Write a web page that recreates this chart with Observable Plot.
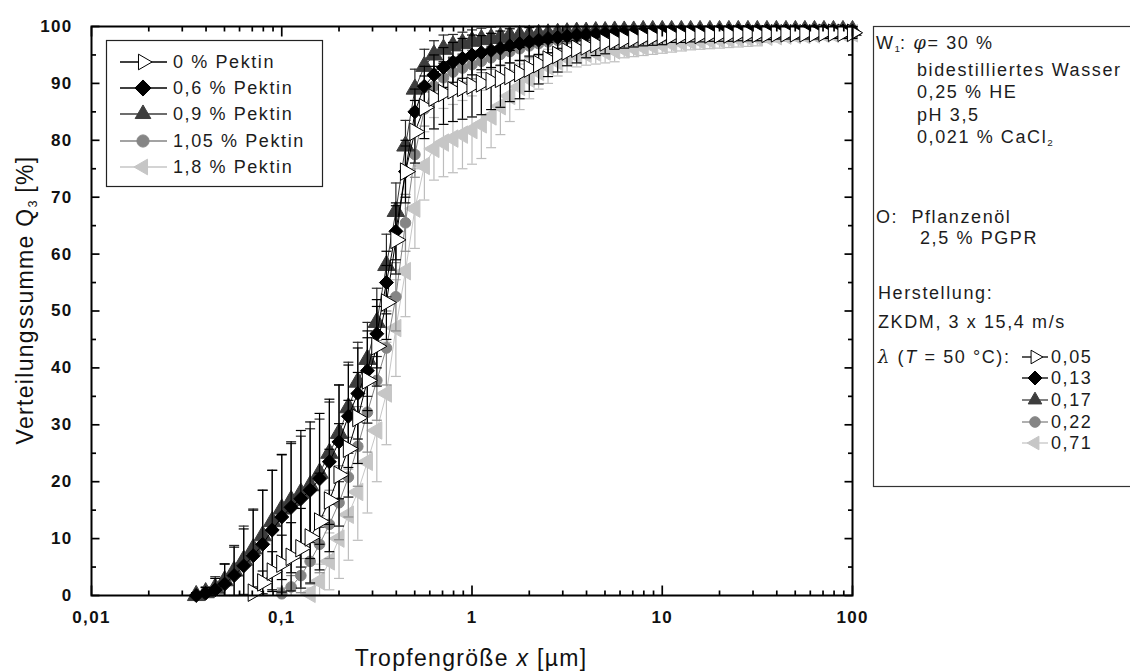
<!DOCTYPE html>
<html><head><meta charset="utf-8">
<script src="https://cdn.jsdelivr.net/npm/d3@7"></script>
<script src="https://cdn.jsdelivr.net/npm/@observablehq/plot@0.6"></script>
<style>
body{margin:0;background:#fff;font-family:"Liberation Sans",Arial,sans-serif;}
#wrap{position:relative;width:1130px;height:671px;overflow:hidden;}
.t{position:absolute;white-space:nowrap;color:#1c1c1c;font-size:18px;letter-spacing:1.6px;line-height:20px;}
.t sub{font-size:0.55em;vertical-align:-0.35em;letter-spacing:0;}
.ttl{position:absolute;white-space:nowrap;color:#111;font-size:23px;letter-spacing:1.3px;line-height:24px;}
.ttl sub{font-size:0.55em;vertical-align:-0.35em;letter-spacing:0;}
.sym{font-family:"DejaVu Serif",serif;font-style:italic;}
</style></head><body><div id="wrap"></div>
<script>
// particle size classes (µm)
const sizes = [0.0355,0.0398,0.0447,0.0501,0.0562,0.0631,0.0708,0.0794,0.0891,0.1,
  0.112,0.126,0.141,0.158,0.178,0.2,0.224,0.251,0.282,0.316,
  0.355,0.398,0.447,0.501,0.562,0.631,0.708,0.794,0.891,1,
  1.12,1.26,1.41,1.58,1.78,2,2.24,2.51,2.82,3.16,
  3.55,3.98,4.47,5.01,5.62,6.31,7.08,7.94,8.91,10,
  11.2,12.6,14.1,15.8,17.8,20,22.4,25.1,28.2,31.6,
  35.5,39.8,44.7,50.1,56.2,63.1,70.8,79.4,89.1,100];

const seriesNames = ["0 % Pektin","0,6 % Pektin","0,9 % Pektin","1,05 % Pektin","1,8 % Pektin"];
const lambdaLabels = ["0,05","0,13","0,17","0,22","0,71"];

// Q3 values (%)
const q0 = [null,null,null,null,null,null,0.5,2.3,4.2,5.6,
  6.8,8.3,10.2,13.0,16.7,21.2,25.8,31.2,37.8,43.8,
  51.5,62.5,74.5,81.5,85.8,87.5,88.3,88.8,89.2,89.6,
  90.0,90.4,90.8,91.3,91.8,92.6,93.4,94.2,95.0,95.6,
  96.1,96.5,96.9,97.2,97.5,97.7,97.9,98.1,98.2,98.3,
  98.4,98.4,98.5,98.5,98.6,98.6,98.6,98.7,98.7,98.7,
  98.7,98.8,98.8,98.8,98.8,98.8,98.9,98.9,98.9,98.9];
const q06 = [0,0.4,1.0,2.0,3.5,5.2,7.0,9.0,11.5,13.8,
  15.5,17.0,18.5,20.5,23.5,27.0,31.5,35.5,39.5,46.0,
  55.0,64.0,74.5,85.0,89.5,91.5,92.8,93.7,94.4,95.0,
  95.4,95.8,96.2,96.6,97.0,97.3,97.6,97.9,98.1,98.3,
  98.5,98.6,98.7,98.8,98.9,98.9,99.0,99.0,99.1,99.1,
  99.1,99.1,99.1,99.1,99.1,99.2,99.2,99.2,99.2,99.2,
  99.2,99.2,99.2,99.2,99.2,99.2,99.2,99.2,99.2,99.2];
const q09 = [0,0.5,1.3,2.6,4.3,6.2,8.2,10.5,13.0,15.2,
  16.7,18.0,19.3,21.5,25.0,28.5,33.0,37.5,41.5,48.0,
  58.0,67.5,79.0,89.0,93.0,95.0,96.0,96.6,97.0,97.4,
  97.7,97.9,98.1,98.3,98.4,98.5,98.6,98.7,98.8,98.9,
  99.0,99.0,99.1,99.1,99.2,99.2,99.2,99.3,99.3,99.3,
  99.3,99.3,99.3,99.3,99.3,99.3,99.3,99.3,99.3,99.3,
  99.3,99.3,99.3,99.3,99.3,99.3,99.3,99.3,99.3,99.3];
const q105 = [null,null,null,null,null,null,null,null,null,0.3,
  1.5,3.5,6.0,9.0,12.5,16.3,20.8,26.2,32.2,37.8,
  43.5,52.5,65.5,77.5,85.5,89.5,91.0,92.0,92.7,93.3,
  93.9,94.5,95.1,95.6,96.1,96.6,97.0,97.3,97.6,97.9,
  98.1,98.3,98.4,98.5,98.6,98.7,98.8,98.8,98.9,98.9,
  99.0,99.0,99.0,99.0,99.0,99.0,99.0,99.0,99.0,99.0,
  99.0,99.0,99.0,99.0,99.0,99.0,99.0,99.0,99.0,99.0];
const q18 = [null,null,null,null,null,null,null,null,null,null,
  null,null,0.3,2.5,6.0,10.0,14.2,18.2,23.5,29.0,
  35.5,47.0,57.0,68.0,75.5,78.5,79.6,80.3,81.0,81.8,
  82.8,84.2,86.0,87.8,89.4,90.8,92.0,93.0,93.8,94.5,
  94.9,95.2,95.4,95.6,95.8,96.0,96.2,96.4,96.6,96.8,
  97.0,97.2,97.4,97.5,97.6,97.7,97.8,97.9,98.0,98.1,
  98.2,98.3,98.4,98.5,98.5,98.6,98.7,98.7,98.8,98.8];

// standard deviations (%)
const e0 = [null,null,null,null,null,null,1,2,3.5,5,
  6,7,8,8.5,9,9,8.5,8,7.5,7,
  6.5,6,5.5,5.5,5.5,5.5,5.5,5.5,5.5,5.5,
  5.5,5,5,4.5,4.5,4,3.5,3,3,2.5,
  2.5,2,2,2,1.5,1.5,1.5,1.5,1.5,1.5,
  1.2,1.2,1.2,1.2,1.2,1.2,1.2,1.2,1.2,1.2,
  1,1,1,1,1,1,1,1,1,1];
const e06 = [0.5,1,2,3.5,5,6.5,8,9.5,10.5,11,
  11.5,12,12,11.5,11,10,9,8,7,6,
  5.5,5,4.5,4,3.5,3.5,3.5,3.5,3.5,3.5,
  3,3,3,3,3,2.5,2.5,2.5,2,2,
  2,2,1.5,1.5,1.5,1.5,1.5,1.5,1.5,1.5,
  1,1,1,1,1,1,1,1,1,1,
  1,1,1,1,1,1,1,1,1,1];
const e09 = [0.5,1,2,3,4.5,6,7,8,9,9.5,
  10,10,10,9.5,9,8.5,8,7,6.5,6,
  5.5,5,4.5,3.5,3,2.5,2.5,2,2,2,
  2,2,2,2,2,1.5,1.5,1.5,1.5,1.5,
  1.5,1.5,1.5,1,1,1,1,1,1,1,
  1,1,1,1,1,1,1,1,1,1,
  1,1,1,1,1,1,1,1,1,1];
const e105 = [null,null,null,null,null,null,null,null,null,1,
  2,3,4,5,6,6.5,7,7,7,7,
  6.5,6,5,4,3,2.5,2.5,2.5,2.5,2.5,
  2,2,2,2,2,2,2,2,2,2,
  1.5,1.5,1.5,1.5,1.5,1.5,1.5,1.5,1.5,1.5,
  1,1,1,1,1,1,1,1,1,1,
  1,1,1,1,1,1,1,1,1,1];
const e18 = [null,null,null,null,null,null,null,null,null,null,
  null,null,1,3,5,7,8,8.5,9,9,
  9,8.5,8,7,6,5.5,6,6,6,6,
  6,5.5,5,4.5,4,3.5,3,3,2.5,2.5,
  2,2,2,2,2,1.5,1.5,1.5,1.5,1.5,
  1.5,1.5,1.5,1.5,1.5,1.5,1.5,1.5,1.5,1.5,
  1,1,1,1,1,1,1,1,1,1];

// axis ticks
const xMajor = [0.01,0.1,1,10,100];
const xMinor = [0.02,0.03,0.04,0.05,0.06,0.07,0.08,0.09,0.2,0.3,0.4,0.5,0.6,0.7,0.8,0.9,
  2,3,4,5,6,7,8,9,20,30,40,50,60,70,80,90];
const yMajor = [0,10,20,30,40,50,60,70,80,90,100];
const yMinor = [5,15,25,35,45,55,65,75,85,95];

// styles
const styles = [
  {fill:"#ffffff", stroke:"#000000", line:"#000000", err:"#000000", symbol:"triangle", rotate:90, r:6.5},
  {fill:"#000000", stroke:"#000000", line:"#000000", err:"#000000", symbol:"diamond2", rotate:0, r:6.3},
  {fill:"#3d3d3d", stroke:"#3d3d3d", line:"#3d3d3d", err:"#2a2a2a", symbol:"triangle", rotate:0, r:6.5},
  {fill:"#858585", stroke:"#858585", line:"#858585", err:"#8a8a8a", symbol:"circle", rotate:0, r:5.3},
  {fill:"#c6c6c6", stroke:"#c6c6c6", line:"#c6c6c6", err:"#bdbdbd", symbol:"triangle", rotate:-90, r:6.5}
];
const valueSets = [q0, q06, q09, q105, q18];
const errSets = [e0, e06, e09, e105, e18];

function rowsFor(k){
  const v = valueSets[k], e = errSets[k], out = [];
  sizes.forEach((x,i)=>{
    if (v[i] == null) return;
    out.push({x, y:v[i], lo:Math.max(0, v[i]-e[i]), hi:Math.min(100, v[i]+e[i])});
  });
  return out;
}

const capSymbol = {draw(ctx, size){ const h = Math.sqrt(size/Math.PI); ctx.moveTo(-h,0); ctx.lineTo(h,0); }};
// inward tick: a segment from the anchor point, pointing "up" (rotated per side)
const tickSymbol = {draw(ctx, size){ const L = Math.sqrt(size/Math.PI); ctx.moveTo(0,0); ctx.lineTo(0,-L); }};

const drawOrder = [4,3,2,1,0];
const seriesMarks = [];
for (const k of drawOrder){
  const s = styles[k], rows = rowsFor(k);
  seriesMarks.push(
    Plot.ruleX(rows, {x:"x", y1:"lo", y2:"hi", stroke:s.err, strokeWidth:1.2}),
    Plot.dot(rows, {x:"x", y:"lo", symbol:capSymbol, r:5, stroke:s.err, fill:"none", strokeWidth:1.2}),
    Plot.dot(rows, {x:"x", y:"hi", symbol:capSymbol, r:5, stroke:s.err, fill:"none", strokeWidth:1.2}),
    Plot.line(rows, {x:"x", y:"y", stroke:s.line, strokeWidth:1}),
    Plot.dot(rows, {x:"x", y:"y", symbol:s.symbol, rotate:s.rotate, r:s.r, fill:s.fill, stroke:s.stroke, strokeWidth:1})
  );
}

const tk = (data, opts, len) => Plot.dot(data, {...opts, symbol:tickSymbol, r:len, stroke:"#000", fill:"none", strokeWidth:1.7});
const tickMarks = [
  tk(xMajor, {x:d=>d, y:()=>0, rotate:0}, 10),
  tk(xMinor, {x:d=>d, y:()=>0, rotate:0}, 5),
  tk(xMajor, {x:d=>d, y:()=>100, rotate:180}, 10),
  tk(xMinor, {x:d=>d, y:()=>100, rotate:180}, 5),
  tk(yMajor, {y:d=>d, x:()=>0.01, rotate:90}, 8),
  tk(yMinor, {y:d=>d, x:()=>0.01, rotate:90}, 4.5),
  tk(yMajor, {y:d=>d, x:()=>100, rotate:-90}, 8),
  tk(yMinor, {y:d=>d, x:()=>100, rotate:-90}, 4.5)
];

const fmt = d => String(d).replace(".", ",");

const chart = Plot.plot({
  width:1130, height:671,
  marginLeft:91, marginRight:278, marginTop:26, marginBottom:76,
  style:{fontFamily:'"Liberation Sans", Arial, sans-serif', color:"#111", background:"white", letterSpacing:"1.3px"},
  x:{type:"log", domain:[0.01,100]},
  y:{domain:[0,100]},
  marks:[
    ...seriesMarks,
    ...tickMarks,
    Plot.axisX(xMajor, {anchor:"bottom", tickSize:0, tickPadding:15, tickFormat:fmt, fontSize:17, fontWeight:"bold", label:null}),
    Plot.axisY(yMajor, {anchor:"left", tickSize:0, tickPadding:19, tickFormat:d=>String(d), fontSize:17, fontWeight:"bold", label:null}),
    Plot.frame({stroke:"#000", strokeWidth:2})
  ]
});
const wrap = document.getElementById("wrap");
wrap.appendChild(chart);

// overlay: legend boxes and symbols
const ov = d3.select(wrap).append("svg")
  .attr("width",1130).attr("height",671)
  .style("position","absolute").style("left","0px").style("top","0px");
const symMap = {triangle:d3.symbolTriangle2, diamond2:d3.symbolDiamond2, circle:d3.symbolCircle};

ov.append("rect").attr("x",106.5).attr("y",40.5).attr("width",216).attr("height",146)
  .attr("fill","white").attr("stroke","#222").attr("stroke-width",1.2);
ov.append("rect").attr("x",873.5).attr("y",26.5).attr("width",400).attr("height",460)
  .attr("fill","none").attr("stroke","#333").attr("stroke-width",1.2);

function legendEntry(x1, x2, cx, cy, k, rScale){
  const s = styles[k];
  ov.append("line").attr("x1",x1).attr("x2",x2).attr("y1",cy).attr("y2",cy)
    .attr("stroke",s.line).attr("stroke-width",1.3);
  ov.append("path")
    .attr("d", d3.symbol(symMap[s.symbol], Math.PI*(s.r*rScale)**2)())
    .attr("transform",`translate(${cx},${cy}) rotate(${s.rotate})`)
    .attr("fill",s.fill).attr("stroke",s.stroke).attr("stroke-width",1);
}
const legRows = [62,88,114,141,167];
const panRows = [357,378,400,422,443];
seriesNames.forEach((name,k)=>{
  legendEntry(120,167,143,legRows[k],k,1.15);
  legendEntry(1022,1048,1035,panRows[k],k,1.0);
  const d = document.createElement("div");
  d.className = "t"; d.style.left = "173px"; d.style.top = (legRows[k]-10)+"px";
  d.textContent = name; wrap.appendChild(d);
  const p = document.createElement("div");
  p.className = "t"; p.style.left = "1051px"; p.style.top = (panRows[k]-10)+"px";
  p.textContent = lambdaLabels[k]; wrap.appendChild(p);
});

// right panel texts
const panel = [
  [876, 43, 'W<sub>1</sub>: <span class="sym">φ</span>= 30 %'],
  [917, 70, 'bidestilliertes Wasser'],
  [917, 92, '0,25 % HE'],
  [917, 115, 'pH 3,5'],
  [917, 137, '0,021 % CaCl<sub>2</sub>'],
  [876, 217, 'O:&nbsp;&nbsp;Pflanzenöl'],
  [920, 238, '2,5 % PGPR'],
  [878, 293, 'Herstellung:'],
  [878, 322, 'ZKDM, 3 x 15,4 m/s'],
  [878, 357, '<span class="sym">λ</span> (<i>T</i> = 50 °C):']
];
panel.forEach(([x,y,html])=>{
  const d = document.createElement("div");
  d.className = "t"; d.style.left = x+"px"; d.style.top = (y-10)+"px";
  d.innerHTML = html; wrap.appendChild(d);
});

// axis titles
const xt = document.createElement("div");
xt.className = "ttl"; xt.innerHTML = 'Tropfengröße <i>x</i> [µm]';
xt.style.left = "471px"; xt.style.top = "646px"; xt.style.transform = "translateX(-50%)";
wrap.appendChild(xt);
const yt = document.createElement("div");
yt.className = "ttl"; yt.innerHTML = 'Verteilungssumme Q<sub>3</sub> [%]';
yt.style.left = "29px"; yt.style.top = "300px"; yt.style.transform = "translate(-50%,-50%) rotate(-90deg)";
wrap.appendChild(yt);
</script>
</body></html>
